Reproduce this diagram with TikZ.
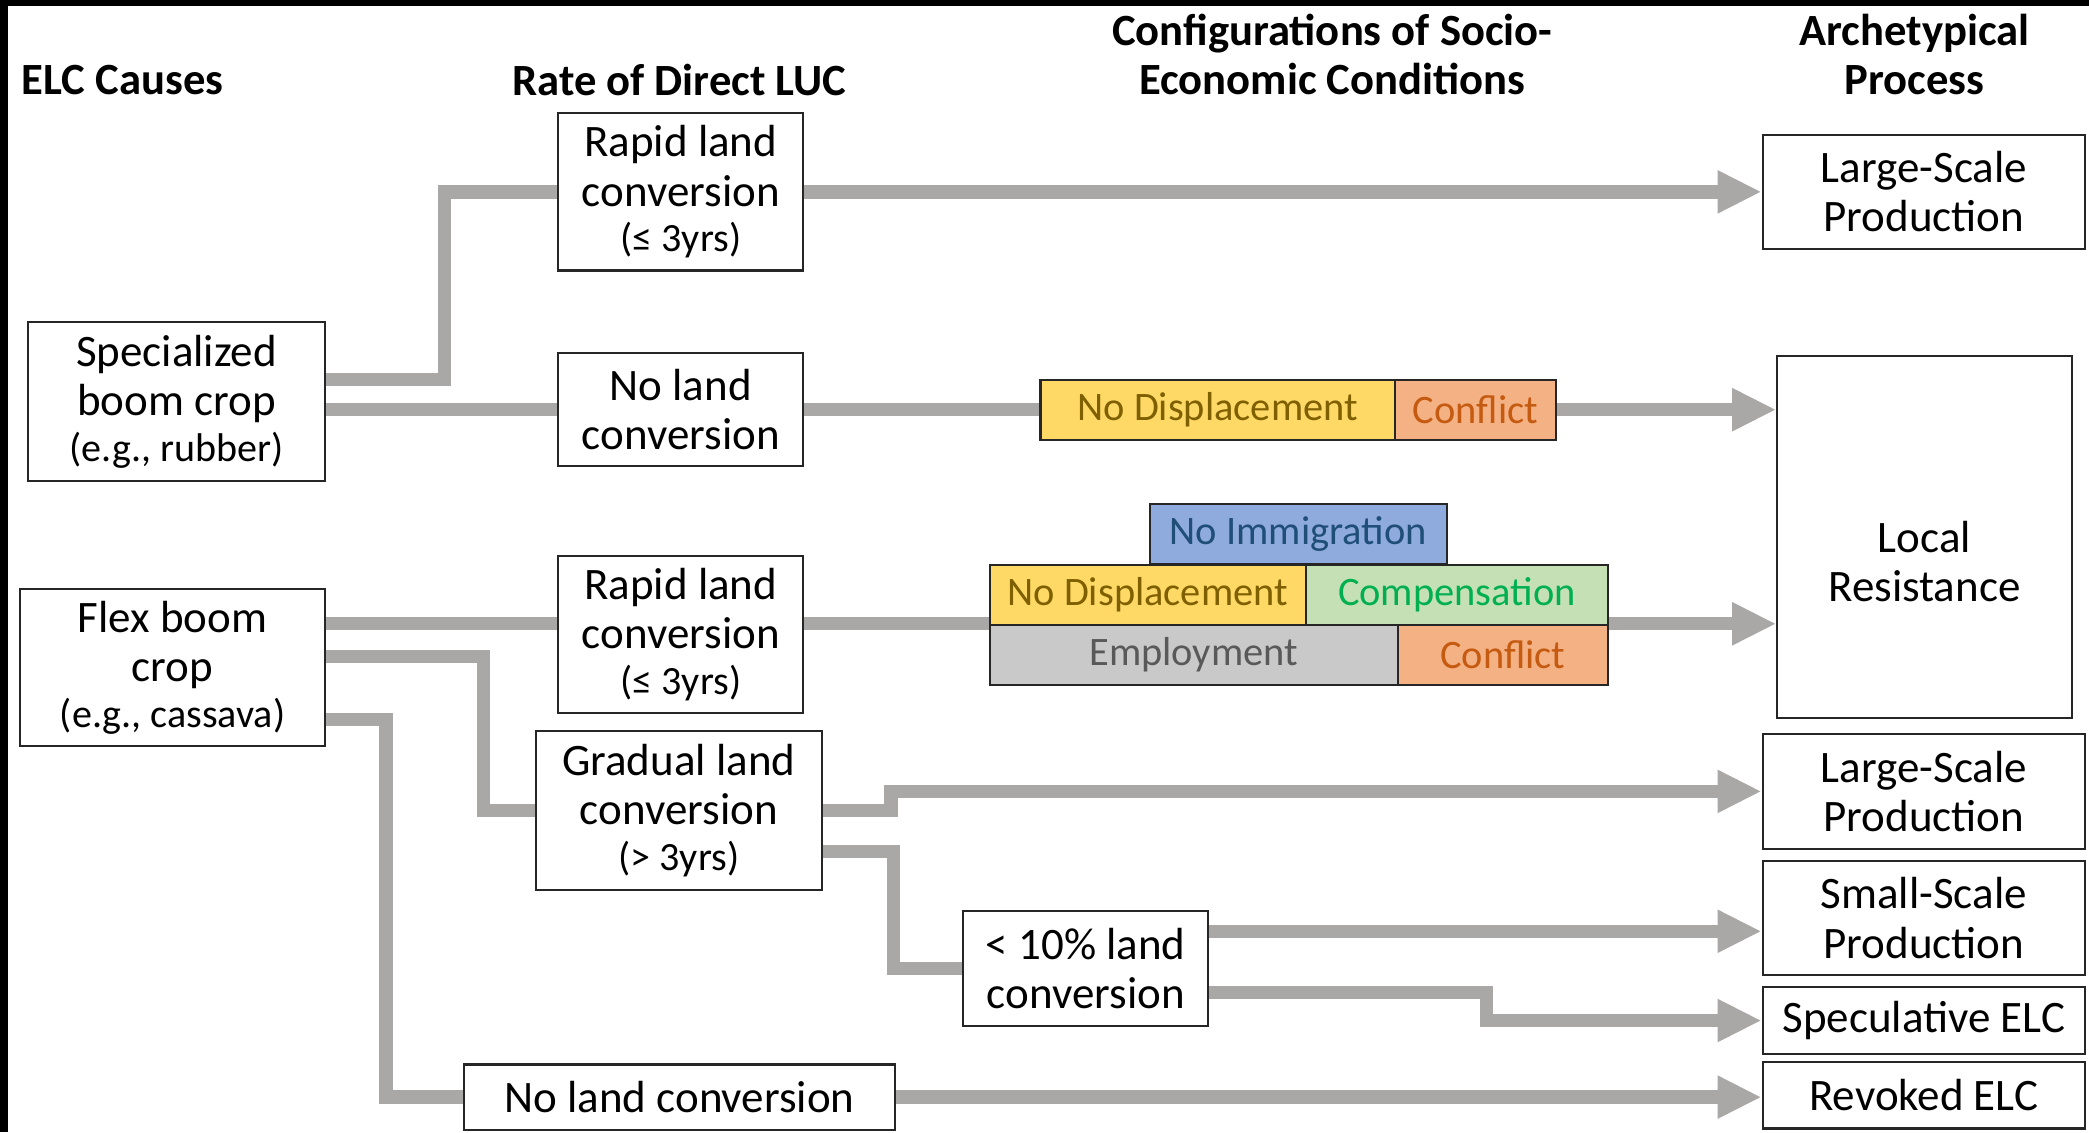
\documentclass[tikz,border=0pt]{standalone}
\usepackage{fontspec}
\setmainfont{Carlito}
\usetikzlibrary{arrows.meta,positioning,calc}
\definecolor{linkgray}{RGB}{170,167,167}
\definecolor{ylwfill}{HTML}{FFD966}
\definecolor{ylwtext}{HTML}{7F6000}
\definecolor{orgfill}{HTML}{F4B183}
\definecolor{orgtext}{HTML}{C55A11}
\definecolor{blufill}{HTML}{8FAADC}
\definecolor{blutext}{HTML}{1F4E79}
\definecolor{grnfill}{HTML}{C5E0B4}
\definecolor{grntext}{HTML}{00B050}
\definecolor{gryfill}{HTML}{C9C9C9}
\definecolor{grytext}{HTML}{595959}
\newcommand\pxu{0.013323cm}
\newcommand\yrs[1]{{\fontsize{11.4}{12}\selectfont #1}}

\begin{document}
\begin{tikzpicture}[x=0.013323cm, y=-0.013323cm,
    font=\fontsize{11.5}{14}\selectfont,
    head/.style={font=\fontsize{12.7}{14}\selectfont\bfseries, align=center},
    box/.style={draw=black!85, line width=0.6pt, fill=white, align=center, inner sep=0pt,
        font=\fontsize{12.8}{14}\selectfont},
    cond/.style={draw=black!85, line width=0.6pt, inner sep=0pt, minimum height=45*\pxu},
    ylw/.style={cond, fill=ylwfill, text=ylwtext},
    org/.style={cond, fill=orgfill, text=orgtext},
    blu/.style={cond, fill=blufill, text=blutext},
    grn/.style={cond, fill=grnfill, text=grntext},
    gry/.style={cond, fill=gryfill, text=grytext},
    link/.style={draw=linkgray, line width=0.133cm},
    flow/.style={link, -{Triangle[length=0.44cm, width=0.40cm]}}]

    % Page and frame edges
    \useasboundingbox (0,0) rectangle (1568,850);
    \fill[white] (0,0) rectangle (1568,850);
    \fill[black] (0,0) rectangle (1568,4.5);
    \fill[black] (0,0) rectangle (6,850);

    % Column heads
    \node[head] (hcause) at (92,60) {ELC Causes};
    \node[head] (hrate) at (510,60) {Rate of Direct LUC};
    \node[head] (hconf) at (1000,41) {Configurations of Socio-\\Economic Conditions};
    \node[head] (harch) at (1437,41) {Archetypical\\Process};

    % ELC causes
    \node[box, minimum width=223*\pxu, minimum height=119*\pxu] (spec) at (132.5,301.5)
        {Specialized\\boom crop\\[-1pt]\yrs{(e.g., rubber)}};
    \node[box, minimum width=229*\pxu, minimum height=118*\pxu] (flex) at (129.5,501)
        {Flex boom\\crop\\[-1pt]\yrs{(e.g., cassava)}};

    % Rate of direct LUC
    \node[box, minimum width=184*\pxu, minimum height=118*\pxu] (rapidA) at (511,144)
        {Rapid land\\conversion\\[-1pt]\yrs{(≤ 3yrs)}};
    \node[box, minimum width=184*\pxu, minimum height=85*\pxu] (noneA) at (511,307.5)
        {No land\\conversion};
    \node[box, minimum width=184*\pxu, minimum height=118*\pxu] (rapidB) at (511,476)
        {Rapid land\\conversion\\[-1pt]\yrs{(≤ 3yrs)}};
    \node[box, minimum width=215*\pxu, minimum height=119*\pxu] (grad) at (509.5,608.5)
        {Gradual land\\conversion\\[-1pt]\yrs{(> 3yrs)}};
    \node[box, minimum width=184*\pxu, minimum height=86*\pxu] (low) at (815,727)
        {< 10\% land\\conversion};
    \node[box, minimum width=324*\pxu, minimum height=49*\pxu] (noneB) at (510,823.5)
        {No land conversion};

    % Socio-economic conditions
    \node[ylw, minimum width=266*\pxu] (dispA) at (914,307.5) {No Displacement};
    \node[org, minimum width=121*\pxu] (conflA) at (1107.5,307.5) {Conflict};
    \node[blu, minimum width=223*\pxu] (immig) at (974.5,400.5) {No Immigration};
    \node[ylw, minimum width=237*\pxu] (dispB) at (861.5,446.5) {No Displacement};
    \node[grn, minimum width=227*\pxu] (comp) at (1093.5,446.5) {Compensation};
    \node[gry, minimum width=306*\pxu] (employ) at (896,491.5) {Employment};
    \node[org, minimum width=158*\pxu] (conflB) at (1128,491.5) {Conflict};

    % Archetypical processes
    \node[box, minimum width=242*\pxu, minimum height=86*\pxu] (largeA) at (1444,144)
        {Large-Scale\\Production};
    \node[box, minimum width=221*\pxu, minimum height=272*\pxu] (local) at (1444.5,403) {};
    \node[align=center, font=\fontsize{12.8}{14}\selectfont] (localtxt) at (1444.5,421.5)
        {Local\\Resistance};
    \node[box, minimum width=242*\pxu, minimum height=86*\pxu] (largeB) at (1444,594)
        {Large-Scale\\Production};
    \node[box, minimum width=242*\pxu, minimum height=86*\pxu] (small) at (1444,689)
        {Small-Scale\\Production};
    \node[box, minimum width=242*\pxu, minimum height=50*\pxu] (specu) at (1444,766)
        {Speculative ELC};
    \node[box, minimum width=242*\pxu, minimum height=50*\pxu] (revoked) at (1444,822)
        {Revoked ELC};

    % Connectors from the causes
    \draw[link] ([yshift=16.5*\pxu]spec.east) -- ++(89,0) |- (rapidA.west);
    \draw[link] (spec.east |- noneA.west) -- (noneA.west);
    \draw[link] (flex.east |- employ.north) -- (rapidB.west |- employ.north);
    \draw[link] ([yshift=8*\pxu]flex.east) -- ++(118,0) |- (grad.west);
    \draw[link] ([yshift=-39*\pxu]flex.east) -- ++(45,0) |- (noneB.west);

    % Connectors into the conditions
    \draw[link] (noneA.east) -- (dispA.west);
    \draw[link] (rapidB.east |- employ.north) -- (employ.north west);
    \draw[link] ([yshift=-30.5*\pxu]grad.east) -- ++(53,0) |- (low.west);

    % Arrows to the processes
    \draw[flow] (rapidA.east) -- (largeA.west);
    \draw[flow] (conflA.east) -- (conflA.east -| local.west);
    \draw[flow] (conflB.north east) -- (conflB.north east -| local.west);
    \draw[flow] (grad.east) -- ++(51,0) |- (largeB.west);
    \coordinate (lowtop) at ([yshift=28*\pxu]low.east);
    \draw[flow] (lowtop) -- (lowtop -| small.west);
    \draw[flow] ([yshift=-18*\pxu]low.east) -- ++(208,0) |- (specu.west);
    \draw[flow] (noneB.east) -- (noneB.east -| revoked.west);
\end{tikzpicture}
\end{document}
